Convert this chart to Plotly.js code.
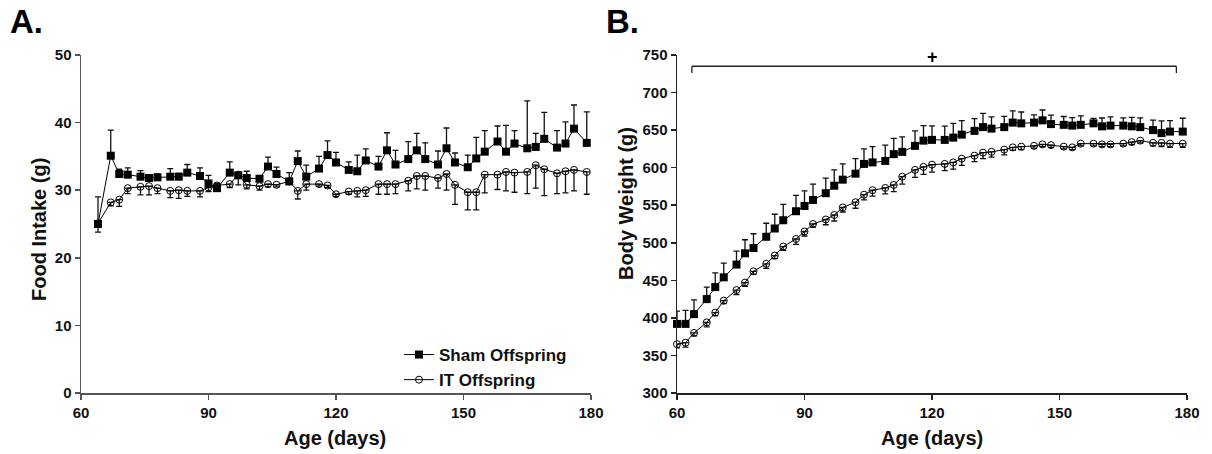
<!DOCTYPE html>
<html>
<head>
<meta charset="utf-8">
<script src="https://cdn.plot.ly/plotly-3.0.1.min.js"></script>
<style>html,body{margin:0;padding:0;background:#fff;}#chart{width:1212px;height:454px;}</style>
</head>
<body>
<div id="chart"></div>
<script>
// ---- Panel A: food intake ----
const daysA = [64,67,69,71,74,76,78,81,83,85,88,90,92,95,97,99,102,104,106,109,111,113,116,118,120,123,125,127,130,132,134,137,139,141,144,146,148,151,153,155,158,160,162,165,167,169,172,174,176,179];
const shamIntake = [25.0,35.1,32.4,32.3,32.0,31.8,31.9,32.0,32.0,32.6,32.1,31.0,30.3,32.6,32.2,31.8,31.7,33.5,32.4,31.3,34.3,32.0,33.2,35.2,34.1,33.0,32.8,34.4,33.5,35.9,33.8,34.6,35.9,34.6,33.8,36.2,34.1,33.4,34.7,35.7,37.2,35.7,36.9,36.2,36.4,37.6,36.3,36.9,39.1,37.0];
const shamIntakeErr = [4.0,3.8,0.7,1.0,0.9,0.5,0.5,1.2,0.5,1.2,1.2,1.2,0.7,1.6,0.4,1.0,0.3,1.4,1.0,1.3,1.5,1.7,1.8,2.1,1.5,1.2,2.4,1.7,1.5,2.6,2.1,2.6,2.5,2.4,2.0,3.0,1.4,1.8,3.1,3.1,2.3,3.9,1.9,7.0,2.0,3.9,2.5,3.2,3.5,4.6];
const itIntake = [25.1,28.2,28.6,30.3,30.5,30.6,30.3,29.9,30.0,29.9,29.9,30.4,30.7,30.9,32.3,30.8,30.6,30.9,30.8,31.3,29.9,30.9,30.9,30.7,29.4,29.8,29.9,30.0,30.9,30.9,30.9,31.4,32.1,32.1,31.8,32.4,30.8,29.7,29.7,32.3,32.3,32.7,32.6,32.7,33.7,33.1,32.5,32.8,33.0,32.7];
const itIntakeErr = [1.3,0.5,1.0,0.8,1.2,1.3,0.8,1.0,1.2,0.8,0.9,0.6,0.4,0.5,1.5,0.6,0.6,0.4,0.3,0.3,1.2,0.9,0.3,0.3,0.3,0.4,0.9,0.9,1.5,1.5,1.4,1.5,1.9,2.1,1.5,2.4,2.9,2.6,2.6,2.7,2.2,2.8,2.9,3.2,3.4,3.9,3.0,3.2,3.1,3.3];

// ---- Panel B: body weight ----
const daysB = [60,62,64,67,69,71,74,76,78,81,83,85,88,90,92,95,97,99,102,104,106,109,111,113,116,118,120,123,125,127,130,132,134,137,139,141,144,146,148,151,153,155,158,160,162,165,167,169,172,174,176,179];
const shamWeight = [392,392,405,425,441,454,471,486,493,508,519,530,542,549,557,566,576,584,592,605,607,609,618,621,629,636,637,637,640,644,649,654,652,654,660,659,660,663,658,657,656,657,659,655,656,656,655,654,650,646,648,648];
const shamWeightErr = [17,18,19,16,19,19,18,18,19,18,19,21,21,20,21,20,21,21,20,20,21,21,21,20,20,20,18.6,18.2,19.1,18.6,16.4,18.2,15.5,14.2,15.5,15.1,10.2,13.8,12.0,11.1,10.7,12.0,6.7,11.1,11.5,10.2,12.0,12.4,13.3,16.4,14.6,17.8];
const itWeight = [365,367,380,394,407,423,437,447,462,472,483,495,505,515,525,531,537,547,554,564,570,573,577,588,597,601,604,605,607,612,616,620,621,624,627,628,629,631,630,628,627,632,632,631,631,632,634,636,633,633,632,632];
const itWeightErr = [5,6,4,6,4,4,6,5,4,6,4,5,7,6,4,7,8,6,8,7,8,8,9,10,10,10,10,9,9,9,8,8,7,7,4,4,3,3,3,3,3,3,3,3,3,3,3,3,4,5,5,5];

// significance bracket (days) and its label
const bracketDays = [63.5, 177.5];
const bracketLevel = 735;
const bracketLabel = '+';

const seriesNames = ['Sham Offspring', 'IT Offspring'];
const tickDays = [60, 90, 120, 150, 180];

const zeros = n => new Array(n).fill(0);
const FONT = 'Arial, "Liberation Sans", Helvetica, sans-serif';

function sham(x, y, err, xa, ya, show) {
  return {
    x: x, y: y, xaxis: xa, yaxis: ya, type: 'scatter', mode: 'lines+markers',
    name: seriesNames[0], showlegend: show, cliponaxis: false,
    line: {color: '#000', width: 1},
    marker: {symbol: 'square', size: 8, color: '#000', line: {color: '#000', width: 0}},
    error_y: {type: 'data', symmetric: false, array: err, arrayminus: zeros(err.length),
              color: '#111', thickness: 1.3, width: 3}
  };
}
function it(x, y, err, xa, ya, show) {
  return {
    x: x, y: y, xaxis: xa, yaxis: ya, type: 'scatter', mode: 'lines+markers',
    name: seriesNames[1], showlegend: show, cliponaxis: false,
    line: {color: '#000', width: 1},
    marker: {symbol: 'circle-open', size: 7, color: '#000', line: {color: '#000', width: 1}},
    error_y: {type: 'data', symmetric: false, array: zeros(err.length), arrayminus: err,
              color: '#111', thickness: 1.3, width: 3}
  };
}

const data = [
  sham(daysA, shamIntake, shamIntakeErr, 'x', 'y', true),
  it(daysA, itIntake, itIntakeErr, 'x', 'y', true),
  sham(daysB, shamWeight, shamWeightErr, 'x2', 'y2', false),
  it(daysB, itWeight, itWeightErr, 'x2', 'y2', false)
];

const W = 1212, H = 454;
const px = v => v / W;
const py = v => 1 - v / H;

function xaxisCfg(dom, color) {
  return {
    domain: dom, range: [60, 180], tickvals: tickDays, ticktext: tickDays.map(String),
    showline: true, linecolor: color, linewidth: 1.5, ticks: 'outside', ticklen: 5,
    tickwidth: 1.5, tickcolor: color, showgrid: false, zeroline: false,
    tickfont: {family: FONT, size: 15, color: '#111', weight: 'bold'}, fixedrange: true
  };
}
function yaxisCfg(range, dtick, anchor, color) {
  return {
    domain: [py(393), py(55)], range: range, dtick: dtick, anchor: anchor,
    showline: true, linecolor: color, linewidth: 1.5, ticks: 'outside', ticklen: 5,
    tickwidth: 1.5, tickcolor: color, showgrid: false, zeroline: false,
    tickfont: {family: FONT, size: 15, color: '#111', weight: 'bold'}, fixedrange: true
  };
}

const titleFont = {family: FONT, size: 20, color: '#111', weight: 'bold'};
const panelFont = {family: FONT, size: 33, color: '#000', weight: 'bold'};

const layout = {
  width: W, height: H,
  margin: {l: 0, r: 0, t: 0, b: 0},
  paper_bgcolor: '#fff', plot_bgcolor: 'rgba(0,0,0,0)',
  showlegend: true,
  legend: {x: px(399), y: py(337), xanchor: 'left', yanchor: 'top', bgcolor: 'rgba(0,0,0,0)',
           font: {family: FONT, size: 17, color: '#111', weight: 'bold'}, tracegroupgap: 0},
  xaxis: Object.assign(xaxisCfg([px(81), px(591)], '#555'), {anchor: 'y'}),
  yaxis: yaxisCfg([0, 50], 10, 'x', '#555'),
  xaxis2: Object.assign(xaxisCfg([px(677), px(1187)], '#222'), {anchor: 'y2'}),
  yaxis2: yaxisCfg([300, 750], 50, 'x2', '#222'),
  shapes: [
    {type: 'line', xref: 'x2', yref: 'y2', x0: bracketDays[0], x1: bracketDays[1], y0: bracketLevel, y1: bracketLevel, line: {color: '#222', width: 1.3}},
    {type: 'line', xref: 'x2', yref: 'y2', x0: bracketDays[0], x1: bracketDays[0], y0: bracketLevel, y1: bracketLevel - 9, line: {color: '#222', width: 1.3}},
    {type: 'line', xref: 'x2', yref: 'y2', x0: bracketDays[1], x1: bracketDays[1], y0: bracketLevel, y1: bracketLevel - 9, line: {color: '#222', width: 1.3}}
  ],
  annotations: [
    {text: 'A.', xref: 'paper', yref: 'paper', x: px(8), y: py(21), xanchor: 'left', yanchor: 'middle', showarrow: false, font: panelFont},
    {text: 'B.', xref: 'paper', yref: 'paper', x: px(604), y: py(21), xanchor: 'left', yanchor: 'middle', showarrow: false, font: panelFont},
    {text: 'Food Intake (g)', xref: 'paper', yref: 'paper', x: px(39), y: py(230), textangle: -90, xanchor: 'center', yanchor: 'middle', showarrow: false, font: titleFont},
    {text: 'Body Weight (g)', xref: 'paper', yref: 'paper', x: px(626), y: py(204), textangle: -90, xanchor: 'center', yanchor: 'middle', showarrow: false, font: titleFont},
    {text: 'Age (days)', xref: 'paper', yref: 'paper', x: px(335), y: py(438), xanchor: 'center', yanchor: 'middle', showarrow: false, font: titleFont},
    {text: 'Age (days)', xref: 'paper', yref: 'paper', x: px(932), y: py(438), xanchor: 'center', yanchor: 'middle', showarrow: false, font: titleFont},
    {text: bracketLabel, xref: 'x2', yref: 'y2', x: 120, y: bracketLevel, xanchor: 'center', yanchor: 'bottom', showarrow: false, yshift: -3,
     font: {family: FONT, size: 18, color: '#000', weight: 'bold'}}
  ]
};

Plotly.newPlot('chart', data, layout, {displayModeBar: false, staticPlot: true});
</script>
</body>
</html>
